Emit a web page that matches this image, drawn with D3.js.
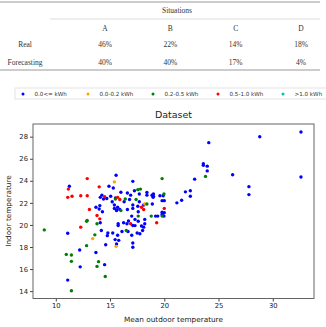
<!DOCTYPE html>
<html>
<head>
<meta charset="utf-8">
<script src="https://cdn.jsdelivr.net/npm/d3@7"></script>
<style>
  body { margin: 0; background: #fff; }
  svg { display: block; }
</style>
</head>
<body>
<div id="chart"></div>
<script>
// table data
const situations = ["A", "B", "C", "D"];
const realShares = ["46%", "22%", "14%", "18%"];
const forecastShares = ["40%", "40%", "17%", "4%"];

// legend
const classLabels = ["0.0<= kWh", "0.0-0.2 kWh", "0.2-0.5 kWh", "0.5-1.0 kWh", ">1.0 kWh"];
const classColors = ["#0000ff", "#ffa500", "#008000", "#ff0000", "#00bfbf"];

// [mean outdoor temp, indoor temp] per class
const lowPts = [
  [11.25,23.5],[15.56,24.5],[14.9,23.5],[15.3,23.35],[16.0,22.96],[17.1,23.95],[16.6,22.9],[17.25,23.1],
  [17.7,22.8],[18.4,22.95],[18.4,22.7],[19.0,22.8],[19.0,22.6],[19.9,22.65],[20.0,22.2],[20.0,21.1],
  [19.97,20.8],[19.4,20.8],[14.25,22.7],[14.4,22.35],[14.1,22.5],[14.7,22.4],[14.06,21.75],[13.7,21.6],
  [14.0,21.45],[14.3,21.2],[14.1,20.2],[15.06,22.6],[15.5,22.45],[15.2,22.1],[15.4,21.8],[15.7,21.6],
  [15.4,21.5],[15.9,21.4],[15.6,21.3],[16.3,22.1],[16.8,22.3],[17.1,21.8],[17.1,21.5],[16.6,21.4],
  [17.56,21.7],[17.7,22.1],[17.6,21.2],[18.1,21.8],[17.0,20.8],[17.3,20.5],[16.7,20.35],[18.2,20.5],
  [17.9,19.9],[16.25,20.2],[17.1,19.95],[15.75,19.95],[11.1,19.25],[11.1,15.0],[12.2,17.73],[12.25,16.2],
  [13.7,17.5],[14.5,16.4],[14.6,18.2],[14.2,19.5],[14.8,19.27],[14.75,19.03],[15.25,19.27],[15.47,18.67],
  [15.7,19.06],[15.8,18.6],[15.6,18.27],[16.1,19.4],[16.56,20.1],[16.66,19.4],[17.0,19.06],[17.1,18.36],
  [17.1,17.97],[17.3,19.94],[17.5,19.27],[17.75,19.2],[18.0,19.5],[18.1,19.8],[18.2,20.1],[17.6,20.33],
  [15.75,20.1],[32.6,28.42],[28.8,28.0],[24.1,27.46],[23.6,25.54],[23.6,25.4],[23.96,25.33],[23.96,24.9],
  [26.3,24.55],[32.6,24.34],[22.8,24.15],[27.8,23.47],[27.8,22.75],[22.4,23.1],[21.95,23.0],[22.4,22.6],
  [21.6,22.24],[21.16,22.0],[19.6,22.65],[19.8,22.2],[19.8,21.15],[19.8,20.94],[19.2,20.8],[18.9,21.9],
  [18.87,22.7],[18.97,22.5],[15.6,21.35],[16.9,22.7]
];
const smallPts = [[15.4,23.9],[18.2,21.9],[13.4,18.76],[15.56,18.06]];
const midPts = [
  [12.9,20.4],[17.56,23.2],[17.8,23.25],[19.8,24.2],[19.97,22.8],[19.8,20.8],[13.8,20.1],[15.5,22.35],
  [16.0,21.3],[16.4,22.35],[17.4,22.3],[18.4,21.9],[17.6,20.8],[8.94,19.55],[10.97,17.33],[11.44,17.27],
  [11.44,16.7],[11.44,14.03],[12.84,18.12],[12.84,20.33],[13.6,19.1],[13.94,16.67],[13.8,16.24],
  [14.56,15.33],[16.5,19.5],[23.8,24.4],[18.8,20.8]
];
const highPts = [
  [11.16,23.25],[11.1,22.5],[11.5,22.6],[12.3,22.65],[12.9,22.65],[12.9,24.2],[14.0,23.45],[13.1,21.4],
  [12.3,19.8],[14.5,22.55],[13.8,20.85],[14.06,20.55],[15.7,22.5],[15.9,22.3],[17.9,21.6],[18.1,21.4],
  [20.0,21.5],[19.3,20.2],[16.9,20.1]
];
const topPts = [];

const xTicks = [10, 15, 20, 25, 30];
const yTicks = [14, 16, 18, 20, 22, 24, 26, 28];

const width = 326, height = 327;
const svg = d3.select("#chart").append("svg").attr("width", width).attr("height", height);

// ---- table ----
const serif = "'Liberation Serif', 'DejaVu Serif', serif";
const colX = d3.scalePoint().domain(situations).range([105, 301]);
const tbl = svg.append("g").attr("font-family", serif).attr("font-size", 7.5).attr("fill", "#333");

tbl.append("line").attr("x1", 0).attr("x2", 320).attr("y1", 2).attr("y2", 2).attr("stroke", "#999");
tbl.append("line").attr("x1", 50).attr("x2", 320).attr("y1", 19).attr("y2", 19).attr("stroke", "#ddd");
tbl.append("line").attr("x1", 0).attr("x2", 320).attr("y1", 70).attr("y2", 70).attr("stroke", "#999");

tbl.append("text").attr("x", 177).attr("y", 12.5).attr("text-anchor", "middle").text("Situations");
tbl.selectAll("text.hdr").data(situations).join("text").attr("class", "hdr")
  .attr("x", d => colX(d)).attr("y", 30.5).attr("text-anchor", "middle").text(d => d);

const rows = [["Real", realShares, 46.5], ["Forecasting", forecastShares, 64.5]];
rows.forEach(([name, vals, y]) => {
  tbl.append("text").attr("x", 25).attr("y", y).attr("text-anchor", "middle").text(name);
  tbl.selectAll(null).data(vals).join("text")
    .attr("x", (d, i) => colX(situations[i])).attr("y", y).attr("text-anchor", "middle").text(d => d);
});

// ---- legend ----
const sans = "'DejaVu Sans', sans-serif";
const leg = svg.append("g").attr("font-family", sans).attr("font-size", 5.6);
leg.append("rect").attr("x", 15).attr("y", 88).attr("width", 320).attr("height", 11)
  .attr("fill", "#fff").attr("stroke", "#ddd").attr("stroke-width", 0.8);
const legX = d3.scalePoint().domain(classLabels).range([23, 283]);
classLabels.forEach((lab, i) => {
  leg.append("circle").attr("cx", legX(lab)).attr("cy", 94).attr("r", 1.5).attr("fill", classColors[i]);
  leg.append("text").attr("x", legX(lab) + 11.5).attr("y", 96).attr("fill", "#333").text(lab);
});

// ---- scatter ----
const x = d3.scaleLinear().domain([7.9, 33.8]).range([33, 314]);
const y = d3.scaleLinear().domain([13.33, 29.15]).range([298.5, 124]);

svg.append("text").attr("x", 173.5).attr("y", 118).attr("text-anchor", "middle")
  .attr("font-family", sans).attr("font-size", 9.5).attr("fill", "#222").text("Dataset");

const xAxis = svg.append("g").attr("transform", "translate(0,298.5)")
  .call(d3.axisBottom(x).tickValues(xTicks).tickSize(3).tickPadding(2));
const yAxis = svg.append("g").attr("transform", "translate(33,0)")
  .call(d3.axisLeft(y).tickValues(yTicks).tickSize(3).tickPadding(2));
[xAxis, yAxis].forEach(a => {
  a.select(".domain").remove();
  a.selectAll("line").attr("stroke", "#444");
  a.selectAll("text").attr("font-family", sans).attr("font-size", 6.8).attr("fill", "#222");
});

svg.append("rect").attr("x", 33).attr("y", 124).attr("width", 281).attr("height", 174.5)
  .attr("fill", "none").attr("stroke", "#555").attr("stroke-width", 0.9);

const groups = [lowPts, smallPts, midPts, highPts, topPts];
groups.forEach((pts, i) => {
  svg.append("g").selectAll("circle").data(pts).join("circle")
    .attr("cx", d => x(d[0])).attr("cy", d => y(d[1])).attr("r", 1.7)
    .attr("fill", classColors[i]);
});

svg.append("text").attr("x", 173.5).attr("y", 321.5).attr("text-anchor", "middle")
  .attr("font-family", sans).attr("font-size", 7.3).attr("fill", "#222").text("Mean outdoor temperature");
svg.append("text").attr("transform", "translate(11,211) rotate(-90)").attr("text-anchor", "middle")
  .attr("font-family", sans).attr("font-size", 7.3).attr("fill", "#222").text("Indoor temperature");
</script>
</body>
</html>
